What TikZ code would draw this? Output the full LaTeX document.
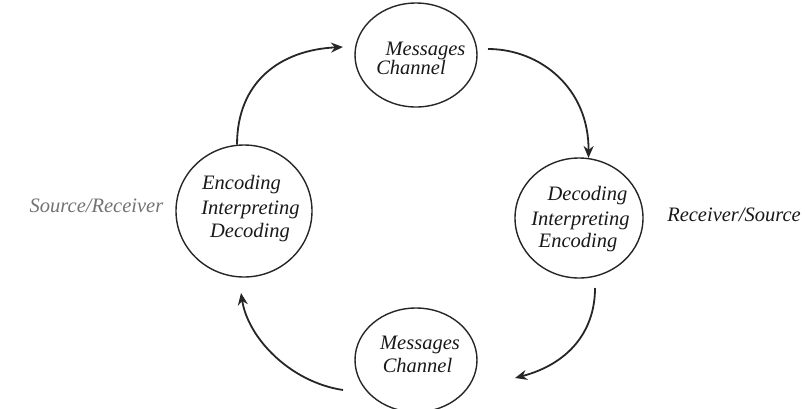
\documentclass[tikz,border=0pt]{standalone}
\usepackage{fontspec}
\setmainfont{Liberation Serif}
\usetikzlibrary{shapes.geometric,arrows.meta}
\begin{document}
\begin{tikzpicture}[x=1pt,y=-1pt,
  circ/.style={draw=black!85,line width=1.4pt,ellipse,inner sep=0pt},
  lbl/.style={anchor=base,inner sep=0pt,font=\fontsize{20.5}{24}\selectfont\itshape,text=black!90},
  conn/.style={draw=black!85,line width=1.8pt,-{Stealth[length=12pt,width=10pt]}}]
\useasboundingbox[fill=white] (0,0) rectangle (805,408);
% circles
\node[circ,minimum width=122pt,minimum height=104pt] (T) at (416,55) {};
\node[circ,minimum width=136pt,minimum height=132pt] (L) at (244,211) {};
\node[circ,minimum width=128pt,minimum height=120pt] (R) at (579,218) {};
\node[circ,minimum width=122pt,minimum height=104pt] (B) at (416,360) {};
% texts
\node[lbl] (t1) at (425.5,55) {Messages};
\node[lbl] (t2) at (411,74.5) {Channel};
\node[lbl] (l1) at (241.5,189.5) {Encoding};
\node[lbl] (l2) at (250.5,214.5) {Interpreting};
\node[lbl] (l3) at (250,237.5) {Decoding};
\node[lbl] (r1) at (587.5,200.5) {Decoding};
\node[lbl] (r2) at (580.5,225.5) {Interpreting};
\node[lbl] (r3) at (578,247.5) {Encoding};
\node[lbl] (b1) at (420,349.5) {Messages};
\node[lbl] (b2) at (417.5,372.5) {Channel};
\node[lbl,text=black!55] (sr) at (96.5,212.5) {Source/Receiver};
\node[lbl,anchor=base east] (rs) at (801,221) {Receiver/Source};
% free ends
\coordinate (a1e) at (343,47);
\coordinate (a2s) at (488,49);
\coordinate (a3s) at (595,288);
\coordinate (a3e) at (515,378);
\coordinate (a4s) at (343,390);
\coordinate (a4e) at (241,293);
% arrows
\draw[conn] (L.96) .. controls (237,82) and (280,50) .. (a1e);
\draw[conn] (a2s) .. controls (540,49) and (589,88) .. (R.81);
\draw[conn] (a3s) .. controls (595,332) and (568,364) .. (a3e);
\draw[conn] (a4s) .. controls (290,382) and (248,338) .. (a4e);
\end{tikzpicture}
\end{document}
